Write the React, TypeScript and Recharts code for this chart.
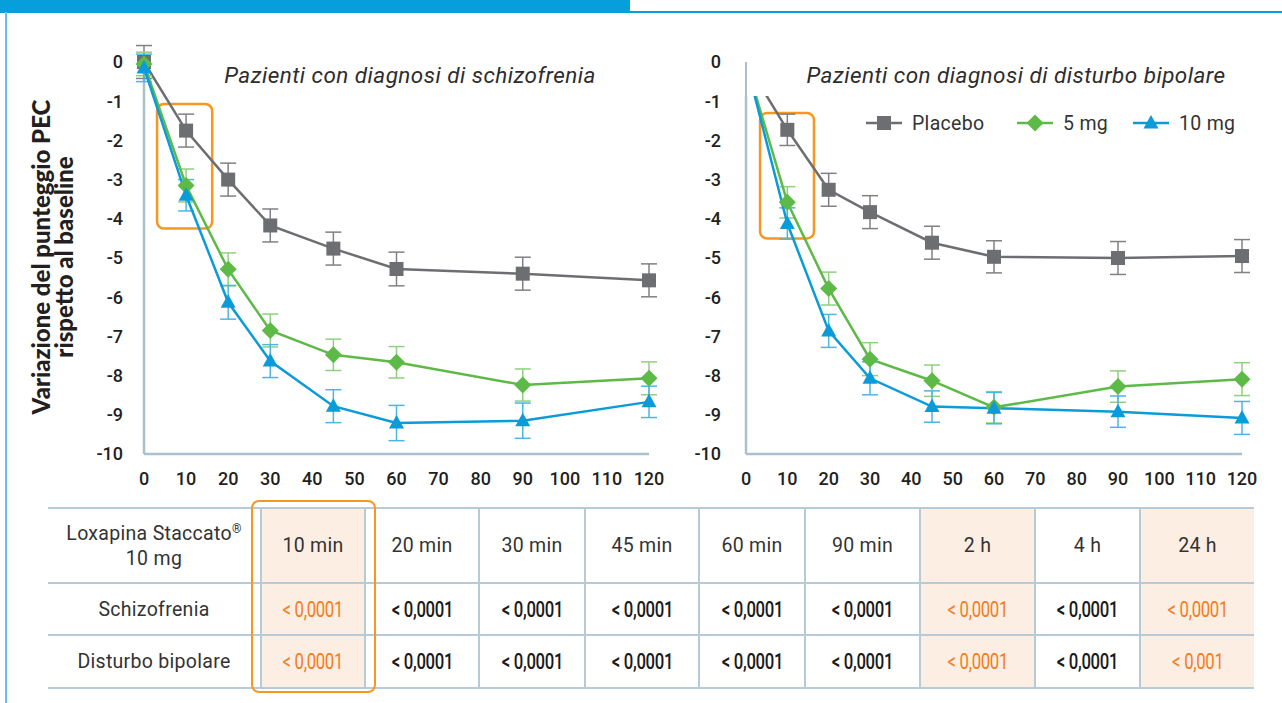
import React from 'react';
import { LineChart, Line, XAxis, YAxis, ErrorBar, ReferenceArea, ReferenceLine } from 'recharts';

const minutes = [0, 10, 20, 30, 45, 60, 90, 120];
const xTicks = [0, 10, 20, 30, 40, 50, 60, 70, 80, 90, 100, 110, 120];
const yTicks = [0, -1, -2, -3, -4, -5, -6, -7, -8, -9, -10];

const schizPlacebo = [0, -1.75, -3.0, -4.17, -4.76, -5.28, -5.4, -5.57];
const schizPlaceboErr = [0.42, 0.42, 0.42, 0.42, 0.42, 0.43, 0.42, 0.42];
const schiz5mg = [-0.05, -3.15, -5.29, -6.85, -7.47, -7.66, -8.24, -8.07];
const schiz5mgErr = [0.3, 0.42, 0.42, 0.42, 0.4, 0.4, 0.41, 0.42];
const schiz10mg = [-0.15, -3.4, -6.13, -7.63, -8.78, -9.21, -9.15, -8.67];
const schiz10mgErr = [0.35, 0.4, 0.43, 0.42, 0.42, 0.45, 0.45, 0.4];

const bipPlacebo = [0, -1.73, -3.26, -3.83, -4.61, -4.97, -5.0, -4.95];
const bipPlaceboErr = [null, 0.4, 0.42, 0.42, 0.42, 0.41, 0.42, 0.42];
const bip5mg = [0, -3.58, -5.78, -7.58, -8.13, -8.81, -8.28, -8.09];
const bip5mgErr = [null, 0.4, 0.42, 0.42, 0.4, 0.4, 0.4, 0.42];
const bip10mg = [0, -4.12, -6.86, -8.07, -8.79, -8.83, -8.92, -9.08];
const bip10mgErr = [null, 0.4, 0.42, 0.42, 0.4, 0.4, 0.4, 0.42];

const seriesNames = ['Placebo', '5 mg', '10 mg'];

const tableHeaderLabel = ['Loxapina Staccato', '®', '10 mg'];
const tableTimes = ['10 min', '20 min', '30 min', '45 min', '60 min', '90 min', '2 h', '4 h', '24 h'];
const tableRowNames = ['Schizofrenia', 'Disturbo bipolare'];
const schizPValues = ['< 0,0001', '< 0,0001', '< 0,0001', '< 0,0001', '< 0,0001', '< 0,0001', '< 0,0001', '< 0,0001', '< 0,0001'];
const bipPValues = ['< 0,0001', '< 0,0001', '< 0,0001', '< 0,0001', '< 0,0001', '< 0,0001', '< 0,0001', '< 0,0001', '< 0,001'];
const highlightedCols = [true, false, false, false, false, false, true, false, true];

const GREY = '#6d6e71';
const GREEN = '#5dba47';
const BLUE = '#0a9bd8';
const GREY_ERR = '#808184';
const GREEN_ERR = '#8fd07e';
const BLUE_ERR = '#4db5e6';
const ORANGE = '#f7971f';
const AXIS = '#a9c0cd';
const FONT = 'Roboto, "Noto Sans", sans-serif';

const build = (p: number[], pe: any[], a: number[], ae: any[], b: number[], be: any[]) =>
  minutes.map((m, i) => ({ m, p: p[i], pe: pe[i], a: a[i], ae: ae[i], b: b[i], be: be[i] }));

const schizData = build(schizPlacebo, schizPlaceboErr, schiz5mg, schiz5mgErr, schiz10mg, schiz10mgErr);
const bipData = build(bipPlacebo, bipPlaceboErr, bip5mg, bip5mgErr, bip10mg, bip10mgErr);

const Square = ({ cx, cy, fill }: any) => <rect x={cx - 7} y={cy - 7} width={14} height={14} fill={fill} />;
const Diamond = ({ cx, cy, fill }: any) => (
  <polygon points={`${cx},${cy - 8.5} ${cx + 8.5},${cy} ${cx},${cy + 8.5} ${cx - 8.5},${cy}`} fill={fill} />
);
const Triangle = ({ cx, cy, fill }: any) => (
  <polygon points={`${cx},${cy - 8} ${cx + 7.5},${cy + 5.5} ${cx - 7.5},${cy + 5.5}`} fill={fill} />
);

const makeDot = (Shape: any, fill: string, skipFirst: boolean) => (props: any) => {
  const { cx, cy, index } = props;
  if (skipFirst && index === 0) return <g key={`d-${index}`} />;
  return (
    <g key={`d-${index}`}>
      <Shape cx={cx} cy={cy} fill={fill} />
    </g>
  );
};

const tickStyle = { fontFamily: FONT, fontSize: 18, fontWeight: 500, fill: '#231f20' };

const boxShape = (p: any) => (
  <rect x={p.x} y={p.y} width={p.width} height={p.height} rx={7} ry={7} fill="none" stroke={ORANGE} strokeWidth={2.5} />
);

// y domain top of 0.5 leaves room for the error bar at baseline; 0 sits at y=62
const PLOT_TOP = 62 - 0.5 * ((454 - 62) / 10);

function Panel({ data, yWidth, width, rightMargin, skipFirst, box, labelGap }: any) {
  return (
    <LineChart
      width={width}
      height={490}
      data={data}
      margin={{ top: PLOT_TOP, right: rightMargin, bottom: 6, left: 0 }}
    >
      <XAxis
        dataKey="m"
        type="number"
        domain={[0, 120]}
        ticks={xTicks}
        interval={0}
        tickLine={false}
        tickSize={0}
        tickMargin={18}
        height={30}
        axisLine={{ stroke: AXIS, strokeWidth: 2.5 }}
        tick={tickStyle}
      />
      <YAxis
        type="number"
        domain={[-10, 0.5]}
        ticks={yTicks}
        interval={0}
        width={yWidth}
        tickLine={false}
        tickSize={0}
        tickMargin={labelGap}
        axisLine={false}
        tick={tickStyle}
      />
      <ReferenceLine segment={[{ x: 0, y: 0 }, { x: 0, y: -10 }]} stroke={AXIS} strokeWidth={2.5} />
      <ReferenceArea x1={box[0]} x2={box[1]} y1={box[2]} y2={box[3]} shape={boxShape} />
      <Line
        dataKey="p"
        name={seriesNames[0]}
        stroke={GREY}
        strokeWidth={2.5}
        isAnimationActive={false}
        dot={makeDot(Square, GREY, skipFirst)}
        activeDot={false}
      >
        <ErrorBar dataKey="pe" width={8} stroke={GREY_ERR} strokeWidth={1.5} direction="y" />
      </Line>
      <Line
        dataKey="a"
        name={seriesNames[1]}
        stroke={GREEN}
        strokeWidth={2.5}
        isAnimationActive={false}
        dot={makeDot(Diamond, GREEN, skipFirst)}
        activeDot={false}
      >
        <ErrorBar dataKey="ae" width={8} stroke={GREEN_ERR} strokeWidth={1.5} direction="y" />
      </Line>
      <Line
        dataKey="b"
        name={seriesNames[2]}
        stroke={BLUE}
        strokeWidth={2.5}
        isAnimationActive={false}
        dot={makeDot(Triangle, BLUE, skipFirst)}
        activeDot={false}
      >
        <ErrorBar dataKey="be" width={8} stroke={BLUE_ERR} strokeWidth={1.5} direction="y" />
      </Line>
    </LineChart>
  );
}

const LegendIcon = ({ Shape, color }: any) => (
  <svg width={36} height={18} style={{ display: 'block' }}>
    <line x1={0} y1={9} x2={36} y2={9} stroke={color} strokeWidth={2.5} />
    <Shape cx={18} cy={9} fill={color} />
  </svg>
);

const cellBorder = '2px solid #b7cbd6';
const labelCell = { borderTop: cellBorder, borderBottom: cellBorder, textAlign: 'center' as const, fontSize: 19.5, color: '#333', padding: 0, letterSpacing: 0.3 };
const valueCellBase = { borderTop: cellBorder, borderBottom: cellBorder, borderLeft: cellBorder, textAlign: 'center' as const, padding: 0 };

export default function App() {
  const legendItems = [
    { Shape: Square, color: GREY, label: seriesNames[0], left: 866 },
    { Shape: Diamond, color: GREEN, label: seriesNames[1], left: 1017 },
    { Shape: Triangle, color: BLUE, label: seriesNames[2], left: 1133 },
  ];
  const colWidths = [213, 104, 114, 106, 114, 106, 115, 115, 105, 114];
  const rowHeights = [75, 52, 53];
  const valueRows = [schizPValues, bipPValues];
  const titleStyle = { position: 'absolute' as const, height: 28, textAlign: 'center' as const, fontStyle: 'italic', fontWeight: 400, fontSize: 22.5, lineHeight: '28px', color: '#2d2d2d', letterSpacing: 0.45, whiteSpace: 'nowrap' as const };
  return (
    <div style={{ position: 'absolute', left: 0, top: 0, width: 1282, height: 703, background: '#fff', overflow: 'hidden', fontFamily: FONT }}>
      <div style={{ position: 'absolute', left: 0, top: 0, width: 630, height: 13, background: '#069fdc' }} />
      <div style={{ position: 'absolute', left: 630, top: 11, width: 652, height: 2, background: '#069fdc' }} />
      <div style={{ position: 'absolute', left: 5, top: 12, width: 2, height: 691, background: '#62c1ec' }} />

      <div style={{ position: 'absolute', left: 0, top: 0 }}>
        <Panel data={schizData} yWidth={144} width={680} rightMargin={31} skipFirst={false} box={[3.1, 16.2, -1.07, -4.25]} labelGap={21} />
      </div>
      <div style={{ position: 'absolute', left: 680, top: 0 }}>
        <Panel data={bipData} yWidth={66} width={600} rightMargin={38} skipFirst={true} box={[3.4, 16.45, -1.3, -4.5]} labelGap={25} />
      </div>

      <svg style={{ position: 'absolute', left: 0, top: 0 }} width={100} height={500}>
        <text
          transform="translate(40,257) rotate(-90)"
          textAnchor="middle"
          dominantBaseline="central"
          style={{ fontFamily: 'Lato, sans-serif', fontWeight: 900, fontSize: 24, fill: '#231f20' }}
        >
          Variazione del punteggio PEC
        </text>
        <text
          transform="translate(63,257) rotate(-90)"
          textAnchor="middle"
          dominantBaseline="central"
          style={{ fontFamily: 'Lato, sans-serif', fontWeight: 900, fontSize: 24, fill: '#231f20' }}
        >
          rispetto al baseline
        </text>
      </svg>

      <div style={{ ...titleStyle, left: 170, top: 61, width: 480 }}>Pazienti con diagnosi di schizofrenia</div>
      <div style={{ position: 'absolute', left: 744, top: 38, width: 530, height: 58, background: '#fff' }} />
      <div style={{ position: 'absolute', left: 744.75, top: 62, width: 2.5, height: 36, background: AXIS }} />
      <div style={{ ...titleStyle, left: 766, top: 61, width: 500 }}>Pazienti con diagnosi di disturbo bipolare</div>

      {legendItems.map((it) => (
        <div key={it.label} style={{ position: 'absolute', left: it.left, top: 112, height: 22, display: 'flex', alignItems: 'center', gap: 10, fontSize: 19.5, color: '#333', letterSpacing: 0.3 }}>
          <LegendIcon Shape={it.Shape} color={it.color} />
          <span>{it.label}</span>
        </div>
      ))}

      <table
        style={{ position: 'absolute', left: 48, top: 507, width: 1206, borderCollapse: 'collapse', tableLayout: 'fixed', fontFamily: FONT }}
      >
        <colgroup>
          {colWidths.map((w, i) => (
            <col key={i} style={{ width: w }} />
          ))}
        </colgroup>
        <tbody>
          <tr style={{ height: rowHeights[0] }}>
            <td style={{ ...labelCell, lineHeight: '25px' }}>
              {tableHeaderLabel[0]}
              <sup style={{ fontSize: 12, lineHeight: 0 }}>{tableHeaderLabel[1]}</sup>
              <br />
              {tableHeaderLabel[2]}
            </td>
            {tableTimes.map((t, i) => (
              <td
                key={t}
                style={{ ...valueCellBase, fontSize: 19.5, letterSpacing: 0.3, color: '#333', background: highlightedCols[i] ? '#fdeee3' : '#fff' }}
              >
                {t}
              </td>
            ))}
          </tr>
          {tableRowNames.map((name, r) => (
            <tr key={name} style={{ height: rowHeights[r + 1] }}>
              <td style={labelCell}>{name}</td>
              {valueRows[r].map((v, i) => (
                <td
                  key={i}
                  style={{ ...valueCellBase, background: highlightedCols[i] ? '#fdeee3' : '#fff' }}
                >
                  <span
                    style={{ display: 'inline-block', fontSize: 22, fontWeight: highlightedCols[i] ? 400 : 500, letterSpacing: -0.4, color: highlightedCols[i] ? '#f47c20' : '#1a1a1a', transform: 'scaleX(0.76)', whiteSpace: 'nowrap' }}
                  >
                    {v}
                  </span>
                </td>
              ))}
            </tr>
          ))}
        </tbody>
      </table>
      <div style={{ position: 'absolute', left: 251, top: 500, width: 121, height: 189, border: `2.5px solid ${ORANGE}`, borderRadius: 8 }} />
    </div>
  );
}
